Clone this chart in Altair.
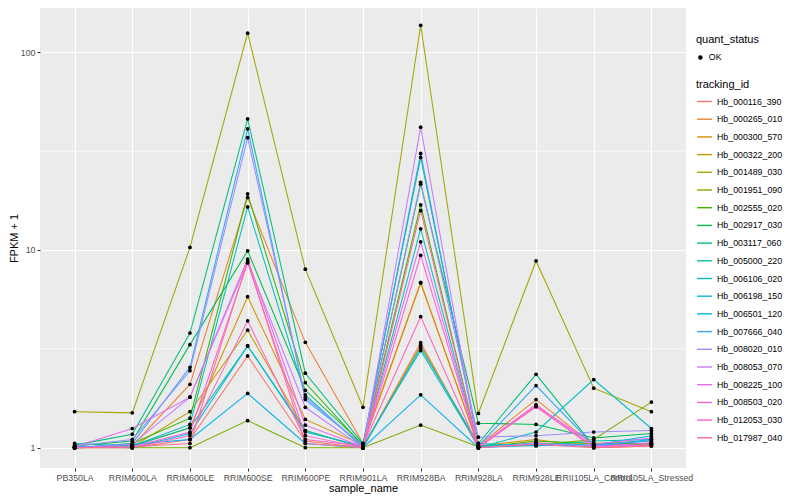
import altair as alt
import pandas as pd

samples = ["PB350LA", "RRIM600LA", "RRIM600LE", "RRIM600SE", "RRIM600PE", "RRIM901LA",
           "RRIM928BA", "RRIM928LA", "RRIM928LE", "RRII105LA_Control", "RRII105LA_Stressed"]

ids = ["Hb_000116_390", "Hb_000265_010", "Hb_000300_570", "Hb_000322_200", "Hb_001489_030",
       "Hb_001951_090", "Hb_002555_020", "Hb_002917_030", "Hb_003117_060", "Hb_005000_220",
       "Hb_006106_020", "Hb_006198_150", "Hb_006501_120", "Hb_007666_040", "Hb_008020_010",
       "Hb_008053_070", "Hb_008225_100", "Hb_008503_020", "Hb_012053_030", "Hb_017987_040"]

colors = ["#F8766D", "#EA8331", "#D89000", "#C09B00", "#A3A500", "#7CAE00", "#39B600", "#00BB4E",
          "#00BF7D", "#00C1A3", "#00BFC4", "#00BAE0", "#00B0F6", "#35A2FF", "#9590FF", "#C77CFF",
          "#E76BF3", "#FA62DB", "#FF62BC", "#FF6C91"]

v_000116_390 = [1.01, 1.00, 1.10, 2.91, 1.08, 1.00, 3.40, 1.00, 1.06, 1.02, 1.05]
v_000265_010 = [1.00, 1.02, 2.09, 18.4, 3.41, 1.05, 6.86, 1.02, 1.75, 1.03, 1.04]
v_000300_570 = [1.00, 1.02, 1.26, 5.8, 1.39, 1.03, 6.80, 1.02, 1.10, 1.00, 1.02]
v_000322_200 = [1.00, 1.01, 1.52, 3.93, 1.22, 1.00, 3.30, 1.01, 1.04, 1.05, 1.08]
v_001489_030 = [1.52, 1.50, 10.3, 125, 8.0, 1.60, 137, 1.49, 8.8, 2.0, 1.52]
v_001951_090 = [1.00, 1.00, 1.00, 1.37, 1.00, 1.00, 1.30, 1.01, 1.03, 1.10, 1.70]
v_002555_020 = [1.00, 1.05, 1.41, 19.2, 2.13, 1.02, 16.9, 1.00, 1.08, 1.05, 1.05]
v_002917_030 = [1.02, 1.08, 3.32, 9.9, 1.95, 1.04, 21.5, 1.33, 1.31, 1.12, 1.18]
v_003117_060 = [1.03, 1.17, 3.8, 46, 2.38, 1.05, 29.4, 1.05, 2.35, 1.02, 1.05]
v_005000_220 = [1.05, 1.02, 1.26, 3.27, 1.22, 1.00, 3.20, 1.05, 1.02, 1.08, 1.10]
v_006106_020 = [1.00, 1.02, 1.31, 16.5, 1.85, 1.00, 12.8, 1.00, 1.20, 2.21, 1.25]
v_006198_150 = [1.02, 1.00, 1.18, 3.27, 1.20, 1.02, 3.10, 1.02, 1.05, 1.03, 1.15]
v_006501_120 = [1.00, 1.04, 1.10, 1.88, 1.05, 1.00, 1.85, 1.00, 1.03, 1.02, 1.10]
v_007666_040 = [1.00, 1.05, 2.55, 41, 1.75, 1.03, 30.8, 1.02, 2.06, 1.03, 1.08]
v_008020_010 = [1.02, 1.10, 2.45, 37, 1.80, 1.02, 22.0, 1.13, 1.15, 1.20, 1.22]
v_008053_070 = [1.00, 1.04, 1.80, 8.7, 1.60, 1.00, 41.8, 1.00, 1.05, 1.02, 1.03]
v_008225_100 = [1.01, 1.25, 1.80, 9.0, 1.30, 1.01, 11.0, 1.00, 1.63, 1.04, 1.12]
v_008503_020 = [1.00, 1.01, 1.20, 8.6, 1.15, 1.00, 9.4, 1.01, 1.65, 1.01, 1.06]
v_012053_030 = [1.00, 1.00, 1.15, 4.38, 1.10, 1.02, 4.60, 1.00, 1.61, 1.00, 1.03]
v_017987_040 = [1.00, 1.01, 1.05, 8.8, 1.05, 1.00, 15.8, 1.00, 1.04, 1.00, 1.02]

series = [v_000116_390, v_000265_010, v_000300_570, v_000322_200, v_001489_030,
          v_001951_090, v_002555_020, v_002917_030, v_003117_060, v_005000_220,
          v_006106_020, v_006198_150, v_006501_120, v_007666_040, v_008020_010,
          v_008053_070, v_008225_100, v_008503_020, v_012053_030, v_017987_040]

major_breaks = [1, 10, 100]
minor_breaks = [3.1623, 31.623]

rows = []
for tid, vals in zip(ids, series):
    for s, v in zip(samples, vals):
        rows.append({"sample_name": s, "tracking_id": tid, "fpkm": v, "quant_status": "OK"})
df = pd.DataFrame(rows)
minor_df = pd.DataFrame({"fpkm": minor_breaks})

FONT = "Liberation Sans"

y_scale = alt.Scale(type="log", domain=[0.789, 167.5], nice=False)
y_axis = alt.Axis(values=major_breaks, grid=True, gridColor="white", gridWidth=1.1,
                  domain=False, tickColor="#333333", tickSize=3,
                  labelColor="#4D4D4D", labelFontSize=8.8, labelPadding=2,
                  titleFontSize=11, titleFontWeight="normal", titleColor="black",
                  titlePadding=1, labelFont=FONT, titleFont=FONT, format="~g")
x_axis = alt.Axis(labelAngle=0, grid=True, gridColor="white", gridWidth=1.1,
                  domain=False, tickColor="#333333", tickSize=3,
                  labelColor="#4D4D4D", labelFontSize=8.8, labelPadding=2,
                  titleFontSize=11, titleFontWeight="normal", titleColor="black",
                  titlePadding=1, labelFont=FONT, titleFont=FONT)

x_enc = alt.X("sample_name:N", sort=samples, title="sample_name",
              scale=alt.Scale(type="point", padding=0.6), axis=x_axis)
y_enc = alt.Y("fpkm:Q", title="FPKM + 1", scale=y_scale, axis=y_axis)

minor = alt.Chart(minor_df).mark_rule(color="white", strokeWidth=0.7).encode(
    y=alt.Y("fpkm:Q", title="FPKM + 1", scale=y_scale, axis=y_axis)
)

lines = alt.Chart(df).mark_line(strokeWidth=1.05).encode(
    x=x_enc, y=y_enc,
    color=alt.Color("tracking_id:N", sort=ids,
                    scale=alt.Scale(domain=ids, range=colors),
                    legend=alt.Legend(title="tracking_id", orient="none", legendX=656, legendY=71,
                                      symbolType="stroke", symbolSize=220, symbolStrokeWidth=1.4,
                                      rowPadding=3.7, labelFontSize=8.8, titleFontSize=11,
                                      titleFontWeight="normal", labelFont=FONT, titleFont=FONT,
                                      titlePadding=3, labelColor="black", titleColor="black")),
    detail="tracking_id:N",
)

points = alt.Chart(df).mark_point(filled=True, color="black", size=14, opacity=1).encode(
    x=x_enc,
    y=y_enc,
    shape=alt.Shape("quant_status:N", scale=alt.Scale(domain=["OK"], range=["circle"]),
                    legend=alt.Legend(title="quant_status", orient="none", legendX=656, legendY=26,
                                      symbolSize=20, symbolFillColor="black", symbolStrokeColor="black",
                                      labelFontSize=8.8, titleFontSize=11, titleFontWeight="normal",
                                      labelFont=FONT, titleFont=FONT, titlePadding=8,
                                      labelColor="black", titleColor="black")),
)

chart = alt.layer(minor, lines, points).properties(
    width=646, height=460,
    autosize=alt.AutoSizeParams(type="none"),
    padding={"left": 32, "top": 0, "right": 106, "bottom": 30},
).configure_view(fill="#EBEBEB", stroke=None)

chart.save("out.html", embed_options={"renderer": "svg", "actions": False})
